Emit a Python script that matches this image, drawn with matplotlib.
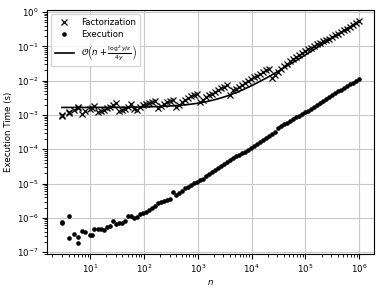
import matplotlib
matplotlib.use("Agg")
import matplotlib.pyplot as plt

plt.rcParams["font.size"] = 6.2
plt.rcParams["xtick.major.pad"] = 2.5
plt.rcParams["ytick.major.pad"] = 2.5

# problem sizes (rounded log-spaced values)
n = [3, 3, 4, 4, 5, 6, 6, 7, 8, 10,
     11, 12, 14, 16, 18, 21, 23, 27, 30, 34,
     39, 45, 51, 58, 65, 74, 85, 96, 109, 124,
     142, 161, 183, 208, 237, 269, 306, 348, 395, 450,
     511, 581, 661, 752, 855, 972, 1105, 1257, 1429, 1625,
     1848, 2101, 2389, 2716, 3089, 3512, 3994, 4541, 5164, 5871,
     6676, 7592, 8633, 9815, 11161, 12691, 14430, 16408, 18658, 21216,
     24124, 27431, 31191, 35467, 40329, 45857, 52143, 59290, 67418, 76659,
     87167, 99115, 112701, 128150, 145716, 165690, 188401, 214226, 243591, 276981,
     314947, 358118, 407207, 463025, 526493, 598662, 680724, 774034, 880136, 1000000]

factorization = [9.3e-4, 1.00e-3, 1.15e-3, 1.26e-3, 1.38e-3, 1.66e-3, 1.58e-3, 1.07e-3, 1.32e-3, 1.45e-3,
                 1.62e-3, 1.82e-3, 1.23e-3, 1.32e-3, 1.41e-3, 1.55e-3, 1.74e-3, 1.91e-3, 2.19e-3, 1.32e-3,
                 1.38e-3, 1.51e-3, 1.74e-3, 2.09e-3, 1.45e-3, 1.38e-3, 1.74e-3, 1.91e-3, 2.04e-3, 2.19e-3,
                 2.40e-3, 2.51e-3, 1.55e-3, 1.78e-3, 2.04e-3, 2.34e-3, 2.63e-3, 2.82e-3, 1.66e-3, 2.00e-3,
                 2.40e-3, 2.82e-3, 3.16e-3, 3.55e-3, 3.89e-3, 4.17e-3, 2.40e-3, 2.75e-3, 3.24e-3, 3.72e-3,
                 4.17e-3, 4.79e-3, 5.37e-3, 6.03e-3, 6.76e-3, 7.41e-3, 3.80e-3, 5.25e-3, 5.89e-3, 6.61e-3,
                 7.59e-3, 8.71e-3, 9.77e-3, 1.10e-2, 1.26e-2, 1.41e-2, 1.58e-2, 1.78e-2, 2.00e-2, 2.19e-2,
                 1.17e-2, 1.48e-2, 1.82e-2, 2.19e-2, 2.63e-2, 3.09e-2, 3.63e-2, 4.17e-2, 4.79e-2, 5.50e-2,
                 6.31e-2, 7.24e-2, 8.13e-2, 9.12e-2, 1.02e-1, 1.15e-1, 1.26e-1, 1.41e-1, 1.55e-1, 1.70e-1,
                 1.86e-1, 2.09e-1, 2.34e-1, 2.63e-1, 2.95e-1, 3.31e-1, 3.72e-1, 4.17e-1, 4.79e-1, 5.50e-1]

execution = [7.1e-7, 7.6e-7, 1.17e-6, 2.6e-7, 3.4e-7, 2.75e-7, 1.86e-7, 4.2e-7, 3.8e-7, 3.2e-7,
             3.2e-7, 4.9e-7, 4.6e-7, 4.6e-7, 4.4e-7, 5.5e-7, 5.9e-7, 8.1e-7, 6.6e-7, 6.9e-7,
             7.1e-7, 7.9e-7, 1.12e-6, 1.15e-6, 1.00e-6, 1.07e-6, 1.32e-6, 1.38e-6, 1.51e-6, 1.70e-6,
             1.91e-6, 2.29e-6, 2.63e-6, 2.88e-6, 3.16e-6, 3.39e-6, 3.55e-6, 5.62e-6, 4.68e-6, 5.37e-6,
             6.17e-6, 7.24e-6, 8.13e-6, 8.91e-6, 1.02e-5, 1.15e-5, 1.26e-5, 1.38e-5, 1.62e-5, 1.91e-5,
             2.19e-5, 2.51e-5, 2.82e-5, 3.16e-5, 3.63e-5, 4.17e-5, 4.90e-5, 5.50e-5, 6.17e-5, 6.92e-5,
             7.59e-5, 8.51e-5, 9.55e-5, 1.10e-4, 1.26e-4, 1.45e-4, 1.66e-4, 1.91e-4, 2.09e-4, 2.40e-4,
             2.75e-4, 3.16e-4, 4.07e-4, 4.68e-4, 5.37e-4, 6.03e-4, 6.76e-4, 7.59e-4, 8.51e-4, 9.55e-4,
             1.07e-3, 1.20e-3, 1.35e-3, 1.51e-3, 1.74e-3, 2.00e-3, 2.29e-3, 2.63e-3, 3.02e-3, 3.39e-3,
             3.89e-3, 4.37e-3, 4.90e-3, 5.50e-3, 6.17e-3, 6.92e-3, 7.76e-3, 8.71e-3, 9.77e-3, 1.10e-2]

theory = [1.66e-3, 1.66e-3, 1.66e-3, 1.66e-3, 1.66e-3, 1.66e-3, 1.66e-3, 1.66e-3, 1.66e-3, 1.67e-3,
          1.67e-3, 1.67e-3, 1.67e-3, 1.67e-3, 1.67e-3, 1.67e-3, 1.67e-3, 1.67e-3, 1.68e-3, 1.68e-3,
          1.68e-3, 1.68e-3, 1.69e-3, 1.69e-3, 1.70e-3, 1.70e-3, 1.71e-3, 1.71e-3, 1.72e-3, 1.73e-3,
          1.74e-3, 1.75e-3, 1.76e-3, 1.77e-3, 1.79e-3, 1.81e-3, 1.83e-3, 1.85e-3, 1.88e-3, 1.91e-3,
          1.94e-3, 1.98e-3, 2.02e-3, 2.07e-3, 2.13e-3, 2.19e-3, 2.27e-3, 2.35e-3, 2.45e-3, 2.55e-3,
          2.68e-3, 2.82e-3, 2.97e-3, 3.15e-3, 3.36e-3, 3.59e-3, 3.86e-3, 4.16e-3, 4.50e-3, 4.89e-3,
          5.33e-3, 5.84e-3, 6.41e-3, 7.06e-3, 7.80e-3, 8.64e-3, 9.60e-3, 1.07e-2, 1.19e-2, 1.33e-2,
          1.49e-2, 1.67e-2, 1.88e-2, 2.12e-2, 2.38e-2, 2.69e-2, 3.03e-2, 3.43e-2, 3.87e-2, 4.38e-2,
          4.96e-2, 5.62e-2, 6.36e-2, 7.21e-2, 8.18e-2, 9.28e-2, 1.05e-1, 1.20e-1, 1.36e-1, 1.54e-1,
          1.75e-1, 1.99e-1, 2.26e-1, 2.56e-1, 2.91e-1, 3.31e-1, 3.76e-1, 4.27e-1, 4.86e-1, 5.52e-1]


fig, ax = plt.subplots(figsize=(3.86, 2.9), dpi=100)
fig.subplots_adjust(left=0.122, right=0.969, top=0.966, bottom=0.124)

ax.plot(n, factorization, "kx", markersize=5, markeredgewidth=0.9, label="Factorization")
ax.plot(n, execution, "ko", markersize=2.3, label="Execution")
ax.plot(n, theory, "k-", linewidth=1.2,
        label=r"$\mathcal{O}\left(n + \frac{\log^2 y/\varepsilon}{4y}\right)$")

ax.set_xscale("log")
ax.set_yscale("log")
ax.grid(True, color="#c8c8c8", linewidth=0.8)
ax.set_axisbelow(True)
ax.set_xlabel("$n$", labelpad=2)
ax.set_ylabel("Execution Time (s)", labelpad=3)
ax.legend(loc="upper left", handlelength=2.2, borderpad=0.4, labelspacing=0.45)

fig.savefig("out.png", dpi=100)
